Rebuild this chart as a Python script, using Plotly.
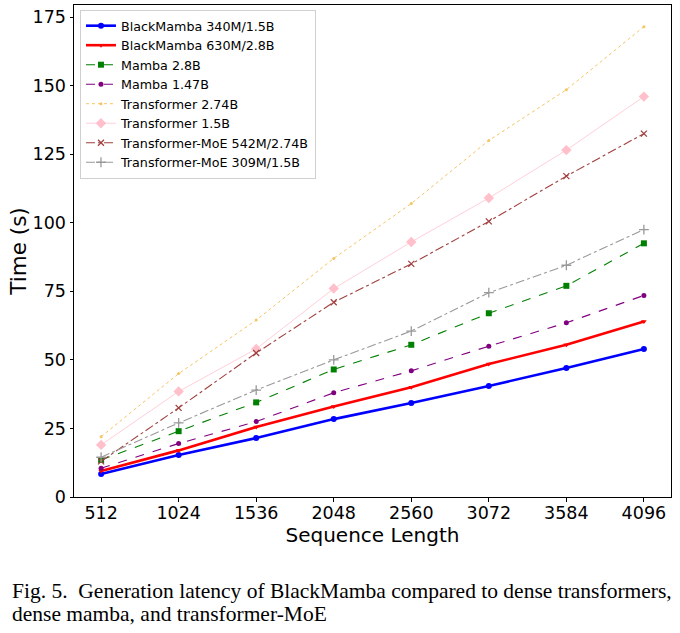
import plotly.graph_objects as go

seq_len = [512, 1024, 1536, 2048, 2560, 3072, 3584, 4096]
x_ticks = [512, 1024, 1536, 2048, 2560, 3072, 3584, 4096]
y_ticks = [0, 25, 50, 75, 100, 125, 150, 175]

blackmamba_340m = [8.4, 15.3, 21.5, 28.4, 34.3, 40.5, 47.0, 54.0]
blackmamba_630m = [9.5, 17.0, 25.5, 33.0, 40.0, 48.5, 55.5, 64.0]
mamba_2_8b = [13.5, 24.0, 34.5, 46.5, 55.5, 67.0, 77.0, 92.5]
mamba_1_47b = [10.5, 19.5, 27.5, 38.0, 46.0, 55.0, 63.5, 73.5]
transformer_2_74b = [22.0, 45.0, 64.5, 87.0, 107.0, 130.0, 148.5, 171.5]
transformer_1_5b = [19.0, 38.5, 54.0, 76.0, 93.0, 109.0, 126.5, 146.0]
moe_542m = [13.0, 32.5, 52.5, 71.0, 85.0, 100.5, 117.0, 132.5]
moe_309m = [14.5, 27.0, 39.0, 50.0, 60.5, 74.5, 84.5, 97.5]

caption_lines = [
    "Fig. 5.  Generation latency of BlackMamba compared to dense transformers,",
    "dense mamba, and transformer-MoE",
]

series = [
    ("BlackMamba 340M/1.5B", blackmamba_340m, "#0000ff", "solid", 2.6, "circle", 6),
    ("BlackMamba 630M/2.8B", blackmamba_630m, "#ff0000", "solid", 2.6, "triangle-down", 5),
    ("Mamba 2.8B", mamba_2_8b, "#008000", "dash", 1.1, "square", 6),
    ("Mamba 1.47B", mamba_1_47b, "#800080", "dash", 1.1, "circle", 5),
    ("Transformer 2.74B", transformer_2_74b, "#f5c463", "dot", 1.0, "circle", 3),
    ("Transformer 1.5B", transformer_1_5b, "#ffd0d8", "solid", 1.0, "diamond", 8),
    ("Transformer-MoE 542M/2.74B", moe_542m, "#a0403f", "dashdot", 1.1, "x-thin", 6),
    ("Transformer-MoE 309M/1.5B", moe_309m, "#999999", "dashdot", 1.1, "cross-thin", 7),
]

fig = go.Figure()
for name, vals, color, dash, width, sym, size in series:
    mk = dict(symbol=sym, size=size, color=color)
    if sym.endswith("-thin"):
        mk["line"] = dict(color=color, width=1.3)
    else:
        mk["line"] = dict(width=0)
    if name == "Transformer 1.5B":
        mk["color"] = "#ffc0cb"
    fig.add_trace(go.Scatter(
        x=seq_len, y=vals, name=name, mode="lines+markers",
        line=dict(color=color, dash=dash, width=width),
        marker=mk,
    ))

fig.update_layout(
    width=680, height=633,
    margin=dict(l=74, r=9, t=5, b=136),
    paper_bgcolor="white", plot_bgcolor="white",
    font=dict(family="DejaVu Sans", color="black"),
    showlegend=True,
    legend=dict(
        x=0.01, y=0.99, xanchor="left", yanchor="top",
        bgcolor="rgba(255,255,255,0.8)", bordercolor="#d0d0d0", borderwidth=1,
        font=dict(size=12.7, family="DejaVu Sans"),
        tracegroupgap=0, itemwidth=30,
    ),
)
fig.update_xaxes(
    range=[333, 4275], tickvals=x_ticks, ticktext=[str(t) for t in x_ticks],
    showgrid=False, zeroline=False, showline=True, linecolor="black", linewidth=1,
    mirror=True, ticks="outside", ticklen=3.5, tickcolor="black", ticklabelstandoff=-4,
    tickfont=dict(size=17.5), title=dict(text="Sequence Length", font=dict(size=20), standoff=0),
)
fig.update_yaxes(
    range=[0, 179.4], tickvals=y_ticks,
    showgrid=False, zeroline=False, showline=True, linecolor="black", linewidth=1,
    mirror=True, ticks="outside", ticklen=3.5, tickcolor="black",
    tickfont=dict(size=17.5), title=dict(text="Time (s)", font=dict(size=21.5), standoff=0),
)

for i, line in enumerate(caption_lines):
    fig.add_annotation(
        xref="paper", yref="paper", x=-0.107, y=-0.162 - i * 0.0475,
        xanchor="left", yanchor="top", align="left", showarrow=False,
        text=line,
        font=dict(family="Liberation Serif", size=21.5, color="black"),
    )

fig.write_html("out.html")
